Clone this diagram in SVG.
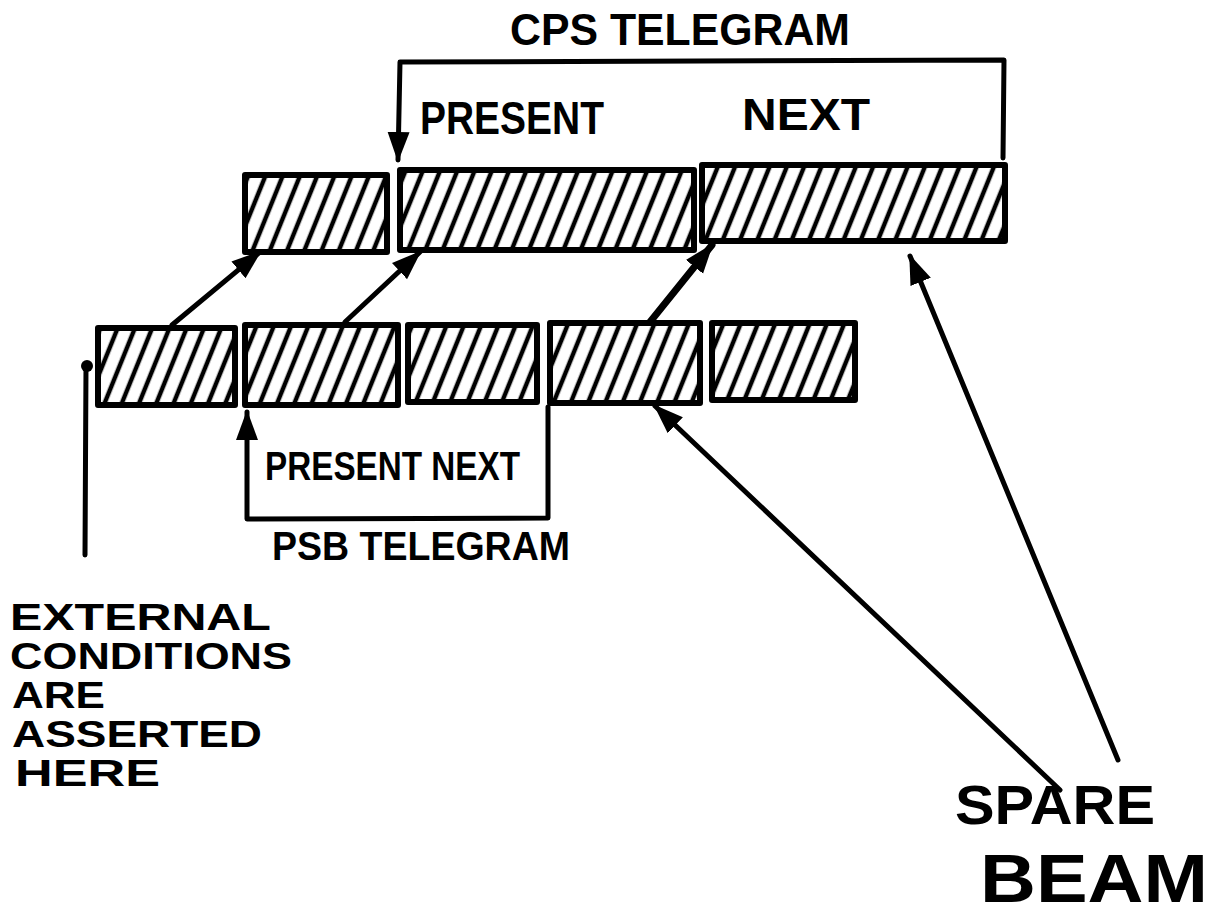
<svg xmlns="http://www.w3.org/2000/svg" width="1211" height="914" viewBox="0 0 1211 914">
<style>
.box{fill:url(#hatch);stroke:#000;stroke-width:6;stroke-linejoin:round}
.ln{fill:none;stroke:#000;stroke-width:5;stroke-linecap:round;stroke-linejoin:round}
.t{font-family:"Liberation Sans",Arial,sans-serif;font-weight:bold;fill:#000}
</style>
<defs>
<pattern id="hatch" patternUnits="userSpaceOnUse" width="16" height="16" patternTransform="rotate(22)">
<rect width="16" height="16" fill="#fff"/>
<line x1="8" y1="0" x2="8" y2="16" stroke="#000" stroke-width="4.5"/>
</pattern>
<marker id="ah" markerUnits="userSpaceOnUse" markerWidth="30" markerHeight="30" viewBox="0 0 30 30" refX="28" refY="15" orient="auto">
<path d="M0,4 L30,15 L0,26 Z" fill="#000"/>
</marker>
</defs>
<g id="connectors">
<path class="ln" d="M172,325 L260,252" marker-end="url(#ah)"/>
<path class="ln" d="M345,322 L420,252" marker-end="url(#ah)"/>
<path class="ln" style="stroke-width:7" d="M650,322 L712,245" marker-end="url(#ah)"/>
<path class="ln" d="M1060,790 L655,406" marker-end="url(#ah)"/>
<path class="ln" d="M1118,760 L910,256" marker-end="url(#ah)"/>
<path class="ln" d="M85,555 L86,366"/>
<circle cx="87" cy="366" r="6" fill="#000"/>
</g>
<g id="cps-bracket">
<path class="ln" d="M1003,158 L1004,60 L400,62 L398,160" marker-end="url(#ah)"/>
<text class="t" x="510" y="45" font-size="44" textLength="340" lengthAdjust="spacingAndGlyphs">CPS TELEGRAM</text>
<text class="t" x="420" y="134" font-size="46" textLength="184" lengthAdjust="spacingAndGlyphs">PRESENT</text>
<text class="t" x="742" y="130" font-size="44" textLength="128" lengthAdjust="spacingAndGlyphs">NEXT</text>
</g>
<g id="cps-boxes">
<rect id="cps-a" class="box" x="245" y="175" width="142" height="77"/>
<rect id="cps-present" class="box" x="400" y="170" width="294" height="80"/>
<rect id="cps-next" class="box" x="702" y="165" width="303" height="76"/>
</g>
<g id="psb-boxes">
<rect id="psb-1" class="box" x="98" y="328" width="137" height="77"/>
<rect id="psb-2" class="box" x="245" y="325" width="153" height="80"/>
<rect id="psb-3" class="box" x="408" y="325" width="129" height="77"/>
<rect id="psb-4" class="box" x="550" y="323" width="150" height="80"/>
<rect id="psb-5" class="box" x="712" y="323" width="143" height="77"/>
</g>
<g id="psb-bracket">
<path class="ln" d="M548,407 L548,518 L247,519 L247,412" marker-end="url(#ah)"/>
<text class="t" x="265" y="480" font-size="40" textLength="255" lengthAdjust="spacingAndGlyphs">PRESENT NEXT</text>
<text class="t" x="272" y="560" font-size="40" textLength="298" lengthAdjust="spacingAndGlyphs">PSB TELEGRAM</text>
</g>
<g id="external-label">
<text class="t" font-size="37">
<tspan x="10" y="630" textLength="260" lengthAdjust="spacingAndGlyphs">EXTERNAL</tspan>
<tspan x="10" y="669" textLength="282" lengthAdjust="spacingAndGlyphs">CONDITIONS</tspan>
<tspan x="12" y="708" textLength="93" lengthAdjust="spacingAndGlyphs">ARE</tspan>
<tspan x="12" y="747" textLength="250" lengthAdjust="spacingAndGlyphs">ASSERTED</tspan>
<tspan x="15" y="786" textLength="145" lengthAdjust="spacingAndGlyphs">HERE</tspan>
</text>
</g>
<g id="spare-beam">
<text class="t" x="955" y="824" font-size="56" textLength="200" lengthAdjust="spacingAndGlyphs">SPARE</text>
<text class="t" x="980" y="902" font-size="68" textLength="228" lengthAdjust="spacingAndGlyphs">BEAM</text>
</g>
</svg>
